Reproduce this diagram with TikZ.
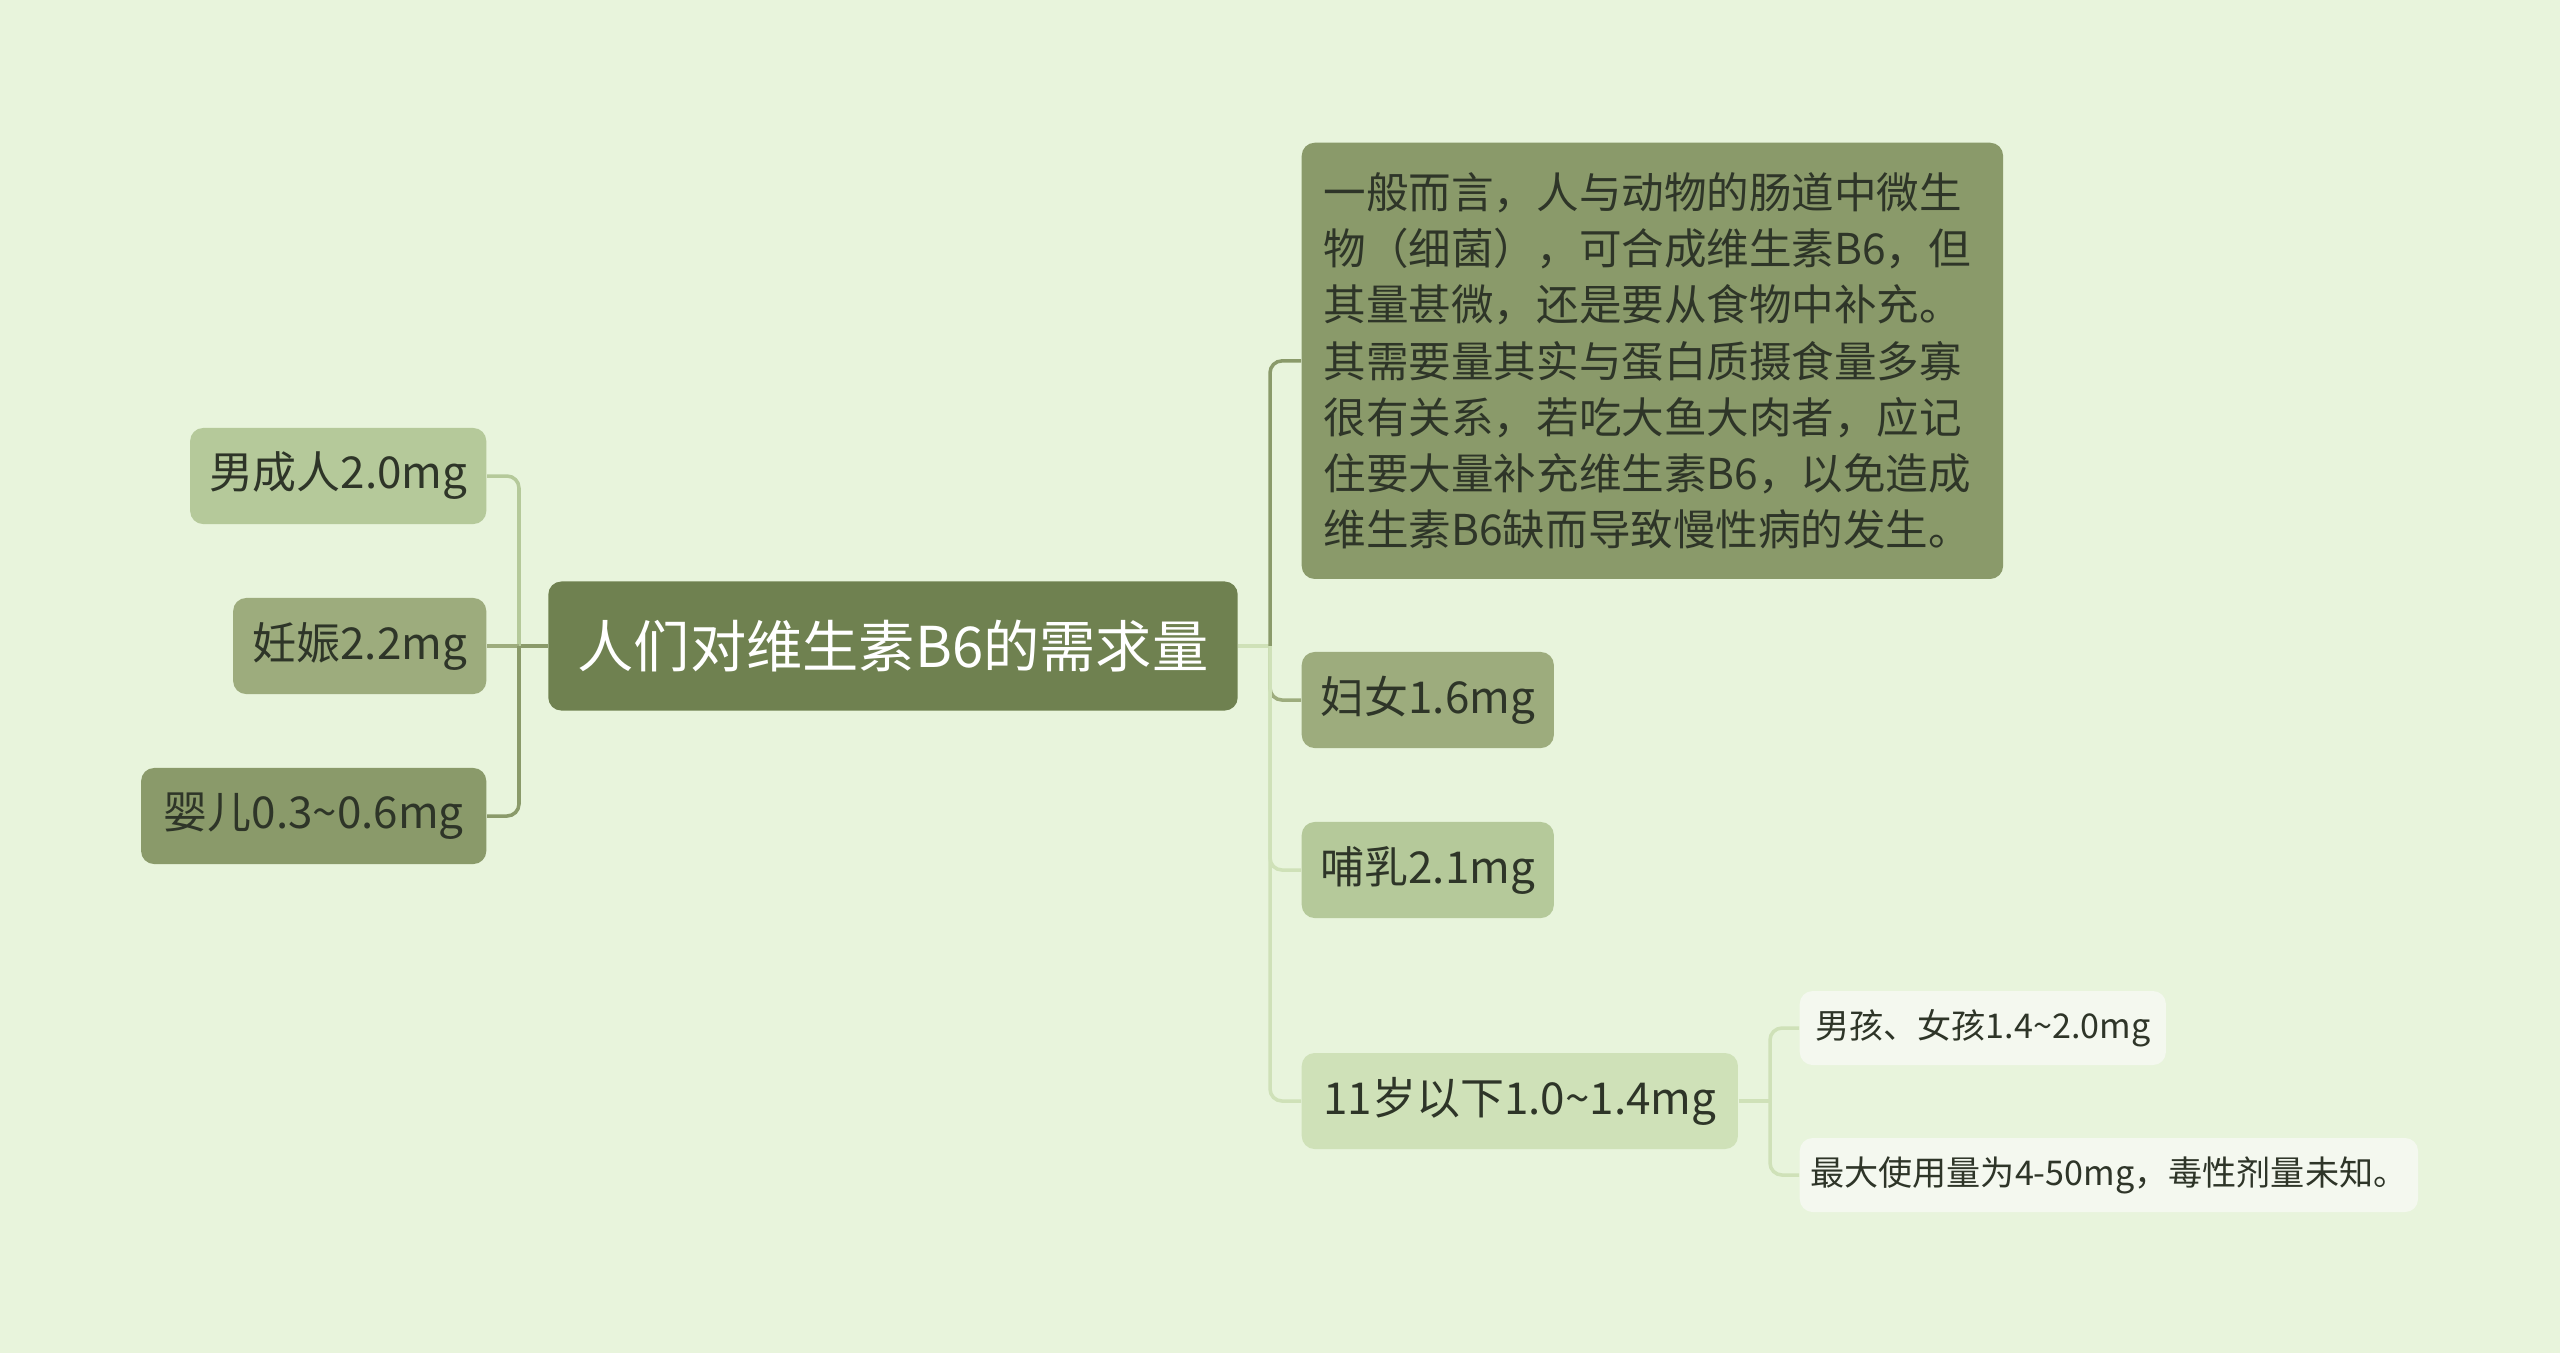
\documentclass[tikz,border=0pt]{standalone}
\usepackage{fontspec}
\setmainfont{Noto Sans CJK SC}
\definecolor{bgc}{HTML}{E8F4DC}
\definecolor{rootc}{HTML}{6F8150}
\definecolor{darkc}{HTML}{8A9A6A}
\definecolor{midc}{HTML}{9DAC7D}
\definecolor{lightc}{HTML}{B5C99A}
\definecolor{palec}{HTML}{CFE1B8}
\definecolor{leafc}{HTML}{F4F8EF}
\definecolor{txtc}{HTML}{2E3528}

\begin{document}
\begin{tikzpicture}[x=0.01cm, y=-0.01cm,
  box/.style={rounded corners=0.13cm, inner sep=0pt, text=txtc, minimum height=0.96cm, font=\fontsize{12.5}{16}\selectfont},
  leaf/.style={box, fill=leafc, minimum height=0.74cm, font=\fontsize{9.7}{12}\selectfont},
  link/.style={line width=1pt, rounded corners=0.12cm}]
\fill[bgc] (0,0) rectangle (2560,1353); % background

% root
\node[box, fill=rootc, text=white, minimum width=6.89cm, minimum height=1.29cm, font=\fontsize{16}{20}\selectfont] (root) at (893,646) {人们对维生素B6的需求量};

% left side
\node[box, fill=lightc, anchor=east, minimum width=2.96cm] (man) at (487,476) {男成人2.0mg};
\node[box, fill=midc, anchor=east, minimum width=2.53cm] (preg) at (487,646) {妊娠2.2mg};
\node[box, fill=darkc, anchor=east, minimum width=3.45cm] (baby) at (487,816) {婴儿0.3\textasciitilde0.6mg};

% right side
\node[box, fill=darkc, anchor=north west, minimum width=7.01cm, minimum height=4.36cm, text width=6.57cm, inner xsep=0.22cm, align=left, font=\fontsize{12.1}{16}\selectfont] (note) at (1301,142) {一般而言，人与动物的肠道中微生\\物（细菌），可合成维生素B6，但\\其量甚微，还是要从食物中补充。\\其需要量其实与蛋白质摄食量多寡\\很有关系，若吃大鱼大肉者，应记\\住要大量补充维生素B6，以免造成\\维生素B6缺而导致慢性病的发生。};
\node[box, fill=midc, anchor=west, minimum width=2.52cm] (woman) at (1301,700) {妇女1.6mg};
\node[box, fill=lightc, anchor=west, minimum width=2.52cm] (nurse) at (1301,870) {哺乳2.1mg};
\node[box, fill=palec, anchor=west, minimum width=4.36cm] (kid) at (1301,1101) {11岁以下1.0\textasciitilde1.4mg};
\node[leaf, anchor=west, minimum width=3.66cm] (kidA) at (1799,1028) {男孩、女孩1.4\textasciitilde2.0mg};
\node[leaf, anchor=west, minimum width=6.18cm] (kidB) at (1799,1175) {最大使用量为4-50mg，毒性剂量未知。};

% connectors
\coordinate (lbus) at (519,646);
\coordinate (rbus) at (1270,646);
\coordinate (kbus) at (1770,1101);
\draw[link, darkc] (root.west) -- (lbus);
\draw[link, lightc] (lbus) |- (man.east);
\draw[link, midc] (lbus) -- (preg.east);
\draw[link, darkc] (lbus) |- (baby.east);
\draw[link, palec] (root.east) -- (rbus);
\draw[link, darkc] (rbus) |- (note.west);
\draw[link, midc] (rbus) |- (woman.west);
\draw[link, palec] (rbus) |- (nurse.west);
\draw[link, palec] (rbus) |- (kid.west);
\draw[link, palec] (kid.east) -- (kbus);
\draw[link, palec] (kbus) |- (kidA.west);
\draw[link, palec] (kbus) |- (kidB.west);
\end{tikzpicture}
\end{document}
